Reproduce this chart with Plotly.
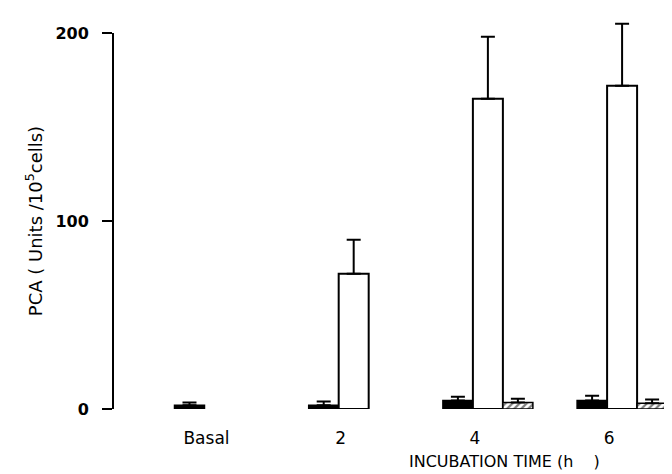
import plotly.graph_objects as go

# ---- data ----
hours = [0, 2, 4, 6]                     # Basal plotted at 0 h
tick_text = ["Basal", "2", "4", "6"]

black_vals = [2.0, 2.0, 4.5, 4.5]
black_err = [1.5, 2.0, 2.0, 2.5]

white_vals = [None, 72, 165, 172]
white_err = [None, 18, 33, 33]

hatch_vals = [None, None, 3.5, 3.0]
hatch_err = [None, None, 2.0, 2.0]

y_ticks = [0, 100, 200]

# ---- styling ----
W = 0.447      # bar width (h units)
D = 0.194      # shift of each bar group relative to its tick label
FONT = "DejaVu Sans"

def err(arr):
    return dict(type="data", symmetric=False, array=arr,
                arrayminus=[0] * len(arr), color="black",
                thickness=2, width=7)

fig = go.Figure()
fig.add_trace(go.Bar(
    x=hours, y=black_vals, width=W, offset=D - 1.5 * W,
    marker=dict(color="black", line=dict(color="black", width=1.5)),
    error_y=err(black_err), showlegend=False))
fig.add_trace(go.Bar(
    x=hours, y=white_vals, width=W, offset=D - 0.5 * W,
    marker=dict(color="white", line=dict(color="black", width=2)),
    error_y=err(white_err), showlegend=False))
fig.add_trace(go.Bar(
    x=hours, y=hatch_vals, width=W, offset=D + 0.5 * W,
    marker=dict(color="white", line=dict(color="black", width=1.5),
                pattern=dict(shape="/", fgcolor="black", bgcolor="white",
                             size=5, solidity=0.45)),
    error_y=err(hatch_err), showlegend=False))

# y axis line spanning exactly 0..200
fig.add_shape(type="line", xref="paper", yref="y", x0=0, x1=0,
              y0=0, y1=200, line=dict(color="black", width=2))

fig.add_annotation(text="PCA ( Units /10<sup>5</sup>cells)", textangle=-90,
                   xref="paper", yref="y", x=-0.139, y=100,
                   xanchor="center", yanchor="middle",
                   showarrow=False, font=dict(family=FONT, size=18, color="black"))
fig.add_annotation(text="INCUBATION TIME (h\u00a0\u00a0\u00a0\u00a0)",
                   xref="paper", yref="paper", x=0.691, y=-0.135,
                   xanchor="center", yanchor="middle",
                   showarrow=False, font=dict(family=FONT, size=16, color="black"))

fig.update_layout(
    width=672, height=474,
    margin=dict(l=105, r=0, t=10, b=73),
    paper_bgcolor="white", plot_bgcolor="white",
    barmode="overlay",
    xaxis=dict(range=[-1.393, 7.057], tickvals=hours, ticktext=tick_text,
               showline=False, showgrid=False, zeroline=False,
               ticks="outside", ticklen=14, tickcolor="rgba(0,0,0,0)",
               tickfont=dict(family=FONT, size=17, color="black")),
    yaxis=dict(range=[0, 208], tickvals=y_ticks, ticktext=[str(v) for v in y_ticks],
               showline=False, showgrid=False, zeroline=False,
               ticks="outside", ticklen=10, tickwidth=2, tickcolor="black",
               ticklabelstandoff=10,
               tickfont=dict(family=FONT, size=16, color="black", weight="bold")),
)

fig.write_html("out.html")
